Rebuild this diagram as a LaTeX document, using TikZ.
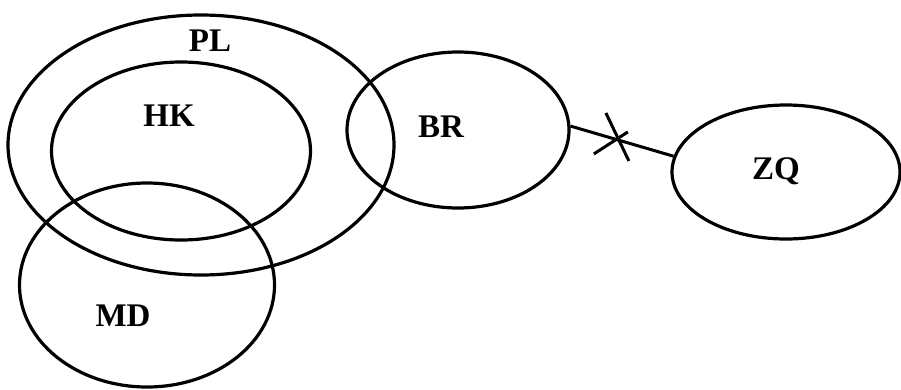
\documentclass[tikz,border=0pt]{standalone}
\usepackage{fontspec}
\setmainfont{Liberation Serif}
\usetikzlibrary{shapes.geometric,calc}
\begin{document}
\begin{tikzpicture}[x=1pt,y=-1pt,
  set/.style={draw=black,line width=3.2pt,ellipse,inner sep=0pt},
  lbl/.style={font=\fontsize{33}{37}\selectfont\bfseries,inner sep=0pt,text=black},
  conn/.style={draw=black,line width=3pt}]
\useasboundingbox (0,0) rectangle (901,389);
\node[set,minimum width=386pt,minimum height=260pt] (PL) at (201,145) {};
\node[set,minimum width=259pt,minimum height=178pt] (HK) at (181,151) {};
\node[set,minimum width=255pt,minimum height=204pt] (MD) at (147,285) {};
\node[set,minimum width=222pt,minimum height=156pt] (BR) at (458,130) {};
\node[set,minimum width=228pt,minimum height=134pt] (ZQ) at (786,172) {};
\node[lbl] (tPL) at (210,41) {PL};
\node[lbl] (tHK) at (169,116) {HK};
\node[lbl] (tMD) at (123,316) {MD};
\node[lbl] (tBR) at (441,127) {BR};
\node[lbl] (tZQ) at (776,171) {ZQ};
\draw[conn] (BR.2) -- (ZQ.172);
\coordinate (X) at ($(BR.2)!0.46!(ZQ.172)$);
\draw[conn] ($(X)+(-12,-27)$) -- ($(X)+(11,21)$);
\draw[conn] ($(X)+(-24,14)$) -- ($(X)+(10,-8)$);
\end{tikzpicture}
\end{document}
